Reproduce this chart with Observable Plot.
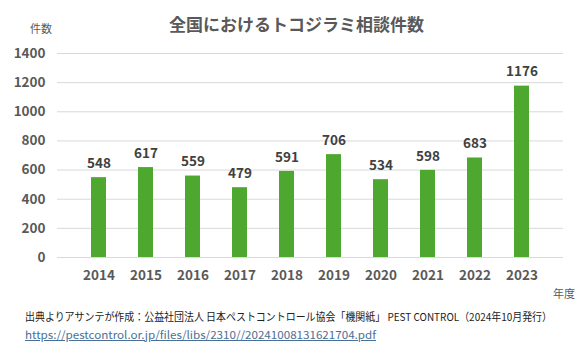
<!DOCTYPE html>
<html>
<head>
<meta charset="utf-8">
<script src="https://cdn.jsdelivr.net/npm/d3@7"></script>
<script src="https://cdn.jsdelivr.net/npm/@observablehq/plot@0.6"></script>
<style>
  html, body { margin: 0; padding: 0; background: #fff; }
  #wrap { position: relative; width: 583px; height: 353px; overflow: hidden; font-family: "Noto Sans CJK JP", "Noto Sans", sans-serif; color: #595959; }
  #title { position: absolute; left: 0; top: 0; width: 583px; height: 48px; line-height: 48px; text-align: center; font-size: 17px; font-weight: bold; color: #595959; padding-left: 10px; box-sizing: border-box; }
  #chart { position: absolute; left: 0; top: 34px; }
  #ylab { position: absolute; left: 30px; top: 20px; font-size: 11px; color: #595959; }
  #xlab { position: absolute; left: 553px; top: 285px; font-size: 11px; color: #595959; }
  #cap { position: absolute; left: 25px; top: 308px; font-size: 11px; color: #222; white-space: nowrap; transform-origin: 0 50%; }
  #url { position: absolute; left: 25px; top: 326px; font-size: 11px; color: #4a6f95; text-decoration: underline; white-space: nowrap; transform-origin: 0 50%; }
  svg { display: block; }
</style>
</head>
<body>
<div id="wrap">
  <div id="chart"></div>
  <div id="title">全国におけるトコジラミ相談件数</div>
  <div id="ylab">件数</div>
  <div id="xlab">年度</div>
  <div id="cap">出典よりアサンテが作成：公益社団法人 日本ペストコントロール協会「機関紙」 PEST CONTROL（2024年10月発行）</div>
  <div id="url">https://pestcontrol.or.jp/files/libs/2310//20241008131621704.pdf</div>
</div>
<script>
const years = ["2014","2015","2016","2017","2018","2019","2020","2021","2022","2023"];
const counts = [548, 617, 559, 479, 591, 706, 534, 598, 683, 1176];
const yTicks = [0, 200, 400, 600, 800, 1000, 1200, 1400];

const data = years.map((y, i) => ({year: y, count: counts[i]}));

const chart = Plot.plot({
  width: 583,
  height: 266,
  marginTop: 19,
  marginBottom: 43,
  marginLeft: 57,
  marginRight: 20,
  style: {fontFamily: "'Noto Sans CJK JP', 'Noto Sans', sans-serif", fontSize: "13px", color: "#595959", background: "transparent"},
  x: {domain: years, padding: 0.68, label: null},
  y: {domain: [0, 1400], ticks: yTicks, label: null},
  marks: [
    Plot.gridY(yTicks, {stroke: "#d9d9d9", strokeOpacity: 1}),
    Plot.barY(data, {x: "year", y: "count", fill: "#4ea72e"}),
    Plot.text(data, {x: "year", y: "count", text: d => String(d.count), dy: -14, fontWeight: "bold", fontSize: 13.5, fill: "#404040"}),
    Plot.axisX({tickSize: 0, tickPadding: 13, fontWeight: "bold", fontSize: 13.5, fill: "#595959", label: null}),
    Plot.axisY(yTicks, {tickSize: 0, tickPadding: 12, tickFormat: d => String(d), fontWeight: "bold", fontSize: 13.5, fill: "#595959", label: null})
  ]
});
document.getElementById("chart").appendChild(chart);

function fitWidth(id, w) {
  const el = document.getElementById(id);
  const cur = el.getBoundingClientRect().width;
  if (cur > 0) el.style.transform = `scaleX(${w / cur})`;
}
fitWidth("cap", 527);
fitWidth("url", 351);
</script>
</body>
</html>
